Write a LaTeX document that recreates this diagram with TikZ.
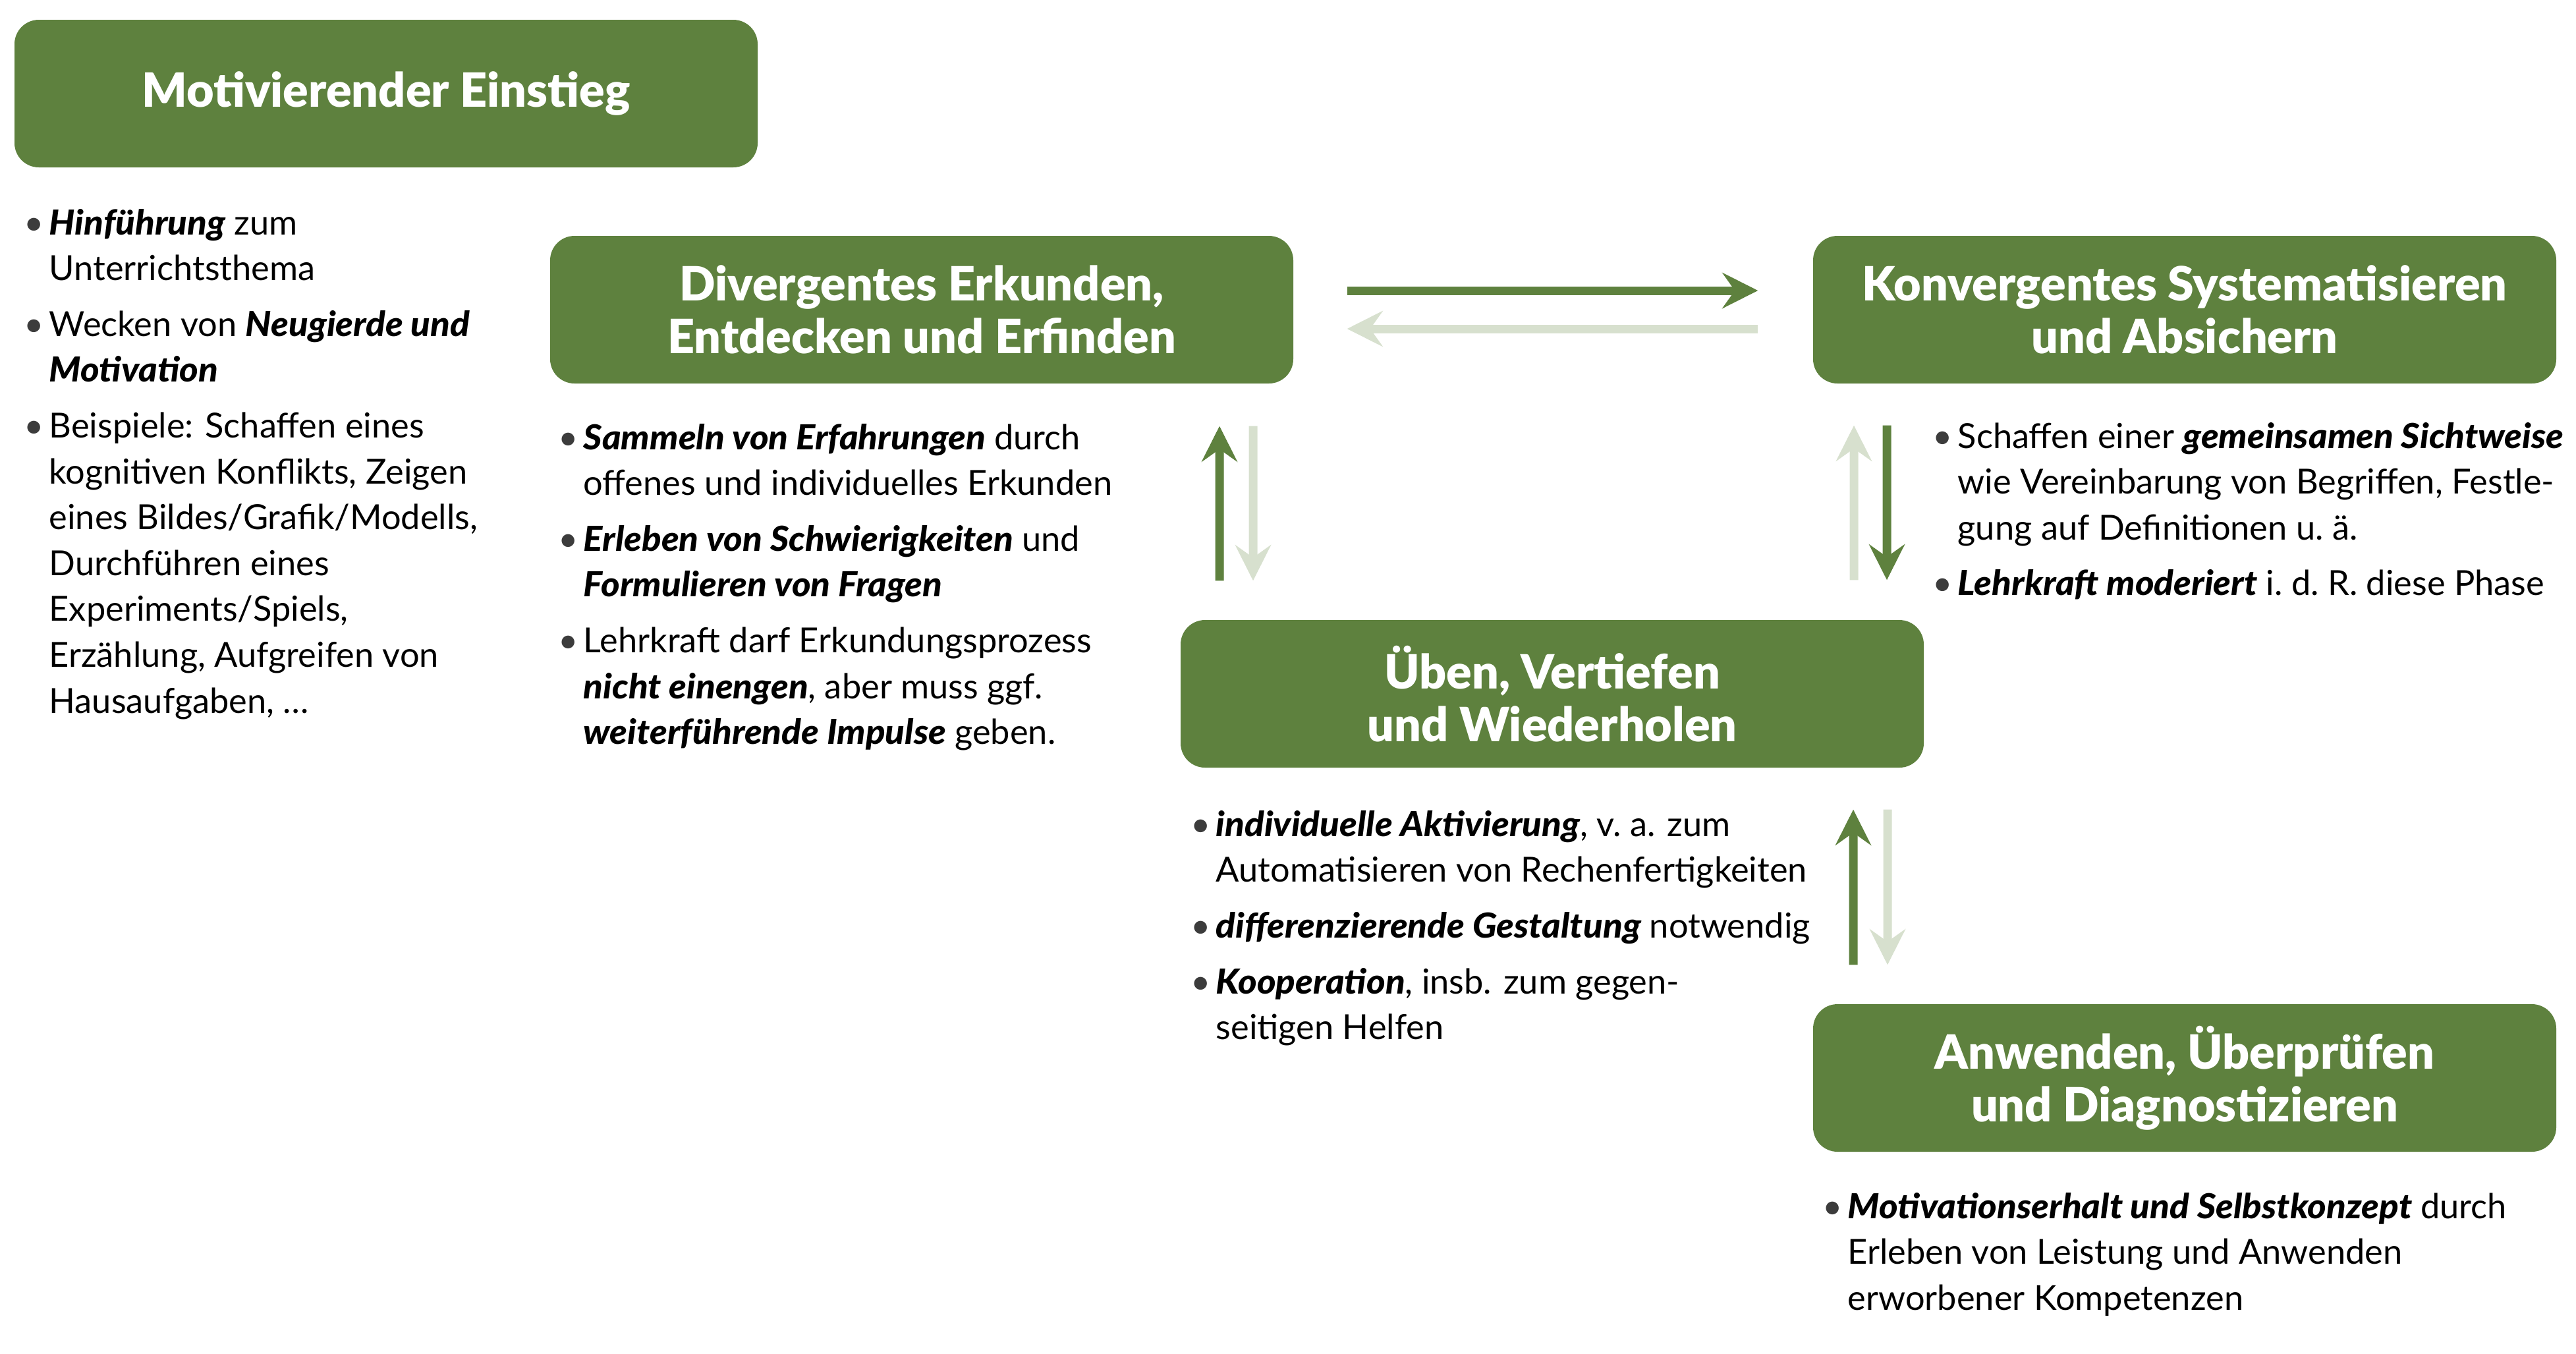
\documentclass[tikz,border=0pt]{standalone}
\usepackage{fontspec}
\setmainfont{Lato}
\newfontfamily\heavyfont{Lato Black}
\newfontfamily\heavywidefont[FakeStretch=1.045]{Lato Black}
\usetikzlibrary{arrows.meta}
\definecolor{phaseGreen}{RGB}{94,129,62}
\definecolor{paleGreen}{RGB}{215,224,206}
\definecolor{dotGray}{RGB}{60,60,60}
\tikzstyle{phaseBox}=[fill=phaseGreen, rounded corners=0.37cm, minimum width=11.28cm, minimum height=2.24cm, text=white, align=center, font=\fontsize{20.4}{22.7}\selectfont\heavyfont]
\tikzstyle{listText}=[anchor=base west, inner sep=0pt, font=\fontsize{14.9}{19.8}\selectfont]
\tikzstyle{darkArrow}=[-{Stealth[length=5.4mm,width=5.4mm,inset=1.9mm]}, line width=0.13cm, phaseGreen]
\tikzstyle{paleArrow}=[-{Stealth[length=5.4mm,width=5.4mm,inset=1.9mm]}, line width=0.13cm, paleGreen]
\newcommand{\pkt}{\makebox[0.38cm][l]{\textcolor{dotGray}{\textbullet}}}
\newcommand{\betont}[1]{{\heavywidefont\itshape #1}}

\begin{document}
\begin{tikzpicture}
	\useasboundingbox (0,0) rectangle (39.10,-20.54);

	% phases
	\node[phaseBox] (einstieg) at (5.86,-1.42) {Motivierender Einstieg};
	\node[phaseBox] (divergent) at (13.99,-4.70) {Divergentes Erkunden,\\ Entdecken und Erfinden};
	\node[phaseBox] (konvergent) at (33.16,-4.70) {Konvergentes Systematisieren\\ und Absichern};
	\node[phaseBox] (ueben) at (23.56,-10.53) {Üben, Vertiefen\\ und Wiederholen};
	\node[phaseBox] (anwenden) at (33.16,-16.36) {Anwenden, Überprüfen\\ und Diagnostizieren};

	% notes below the phases
	\node[listText] (einstiegText) at (0.36,-3.56) {\begin{tabular}[t]{@{}l@{}l@{}}
		\pkt & \betont{Hinführung} zum\\
		& Unterrichtsthema\\[4.3pt]
		\pkt & Wecken von \betont{Neugierde und}\\
		& \betont{Motivation}\\[4.3pt]
		\pkt & Beispiele: Schaffen eines\\
		& kognitiven Konflikts, Zeigen\\
		& eines Bildes/Grafik/Modells,\\
		& Durchführen eines\\
		& Experiments/Spiels,\\
		& Erzählung, Aufgreifen von\\
		& Hausaufgaben, …
	\end{tabular}};
	\node[listText] (divergentText) at (8.47,-6.82) {\begin{tabular}[t]{@{}l@{}l@{}}
		\pkt & \betont{Sammeln von Erfahrungen} durch\\
		& offenes und individuelles Erkunden\\[4.3pt]
		\pkt & \betont{Erleben von Schwierigkeiten} und\\
		& \betont{Formulieren von Fragen}\\[4.3pt]
		\pkt & Lehrkraft darf Erkundungsprozess\\
		& \betont{nicht einengen}, aber muss ggf.\\
		& \betont{weiterführende Impulse} geben.
	\end{tabular}};
	\node[listText] (konvergentText) at (29.33,-6.80) {\begin{tabular}[t]{@{}l@{}l@{}}
		\pkt & Schaffen einer \betont{gemeinsamen Sichtweise}\\
		& wie Vereinbarung von Begriffen, Festle-\\
		& gung auf Definitionen u.~ä.\\[4.3pt]
		\pkt & \betont{Lehrkraft moderiert} i.~d.~R. diese Phase
	\end{tabular}};
	\node[listText] (uebenText) at (18.07,-12.69) {\begin{tabular}[t]{@{}l@{}l@{}}
		\pkt & \betont{individuelle Aktivierung}, v.~a. zum\\
		& Automatisieren von Rechenfertigkeiten\\[4.3pt]
		\pkt & \betont{differenzierende Gestaltung} notwendig\\[4.3pt]
		\pkt & \betont{Kooperation}, insb. zum gegen-\\
		& seitigen Helfen
	\end{tabular}};
	\node[listText] (anwendenText) at (27.66,-18.49) {\begin{tabular}[t]{@{}l@{}l@{}}
		\pkt & \betont{Motivationserhalt und Selbstkonzept} durch\\
		& Erleben von Leistung und Anwenden\\
		& erworbener Kompetenzen
	\end{tabular}};

	% transitions
	\draw[darkArrow, shorten <=0.81cm, shorten >=0.83cm] ([yshift=0.29cm]divergent.east) -- ([yshift=0.29cm]konvergent.west);
	\draw[paleArrow, shorten <=0.83cm, shorten >=0.81cm] ([yshift=-0.29cm]konvergent.west) -- ([yshift=-0.29cm]divergent.east);

	\draw[darkArrow, shorten <=0.59cm, shorten >=0.64cm] ([xshift=-5.05cm]ueben.north) -- ([xshift=4.52cm]divergent.south);
	\draw[paleArrow, shorten <=0.64cm, shorten >=0.59cm] ([xshift=5.03cm]divergent.south) -- ([xshift=-4.54cm]ueben.north);

	\draw[paleArrow, shorten <=0.60cm, shorten >=0.63cm] ([xshift=4.58cm]ueben.north) -- ([xshift=-5.02cm]konvergent.south);
	\draw[darkArrow, shorten <=0.63cm, shorten >=0.60cm] ([xshift=-4.52cm]konvergent.south) -- ([xshift=5.08cm]ueben.north);

	\draw[darkArrow, shorten <=0.59cm, shorten >=0.63cm] ([xshift=-5.03cm]anwenden.north) -- ([xshift=4.57cm]ueben.south);
	\draw[paleArrow, shorten <=0.63cm, shorten >=0.59cm] ([xshift=5.09cm]ueben.south) -- ([xshift=-4.51cm]anwenden.north);
\end{tikzpicture}
\end{document}
